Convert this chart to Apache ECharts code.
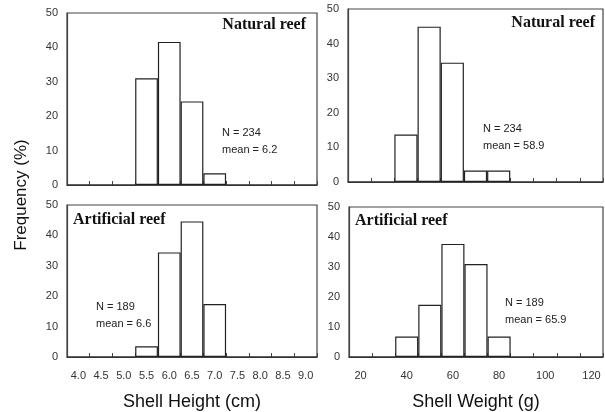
<!DOCTYPE html>
<html>
<head>
<meta charset="utf-8">
<script src="https://cdn.jsdelivr.net/npm/echarts@6/dist/echarts.min.js"></script>
<style>
    html, body { margin: 0; padding: 0; background: #fff; }
    #chart1 { width: 605px; height: 412px; }
</style>
</head>
<body>
<div id="chart1"></div>
<script>
// 数据
var heightCats = ['4.0', '4.5', '5.0', '5.5', '6.0', '6.5', '7.0', '7.5', '8.0', '8.5', '9.0'];
var weightCats = ['20', '30', '40', '50', '60', '70', '80', '90', '100', '110', '120'];
var heightNatural = [0, 0, 0, 31, 41.6, 24.3, 3.4, 0, 0, 0, 0];
var heightArtificial = [0, 0, 0, 3.5, 34.4, 44.6, 17.4, 0, 0, 0, 0];
var weightNatural = [0, 0, 13.7, 44.9, 34.5, 3.3, 3.3, 0, 0, 0, 0];
var weightArtificial = [0, 0, 6.8, 17.4, 37.7, 31.0, 6.8, 0, 0, 0, 0];
var yTicks = [0, 10, 20, 30, 40, 50];

var chart1 = echarts.init(document.getElementById('chart1'));
var txtColor = '#333';
var frameColor = '#444';

function makeX(idx, cats, showLabel, name, labelInterval) {
    return {
        type: 'category',
        gridIndex: idx,
        data: cats,
        boundaryGap: true,
        axisLine: { show: true, lineStyle: { color: frameColor, width: 1.2 } },
        axisTick: { show: true, inside: true, length: 4, interval: 0, lineStyle: { color: frameColor } },
        axisLabel: {
            show: showLabel, interval: labelInterval, margin: 13,
            color: txtColor, fontSize: 11, fontFamily: 'Liberation Sans'
        },
        name: name,
        nameLocation: 'middle',
        nameGap: 36,
        nameTextStyle: { color: '#111', fontSize: 18, fontFamily: 'Liberation Sans' }
    };
}
function makeY(idx) {
    return {
        type: 'value',
        gridIndex: idx,
        min: yTicks[0],
        max: yTicks[yTicks.length - 1],
        interval: 10,
        splitLine: { show: false },
        axisLine: { show: true, lineStyle: { color: frameColor, width: 1.2 } },
        axisTick: { show: false },
        axisLabel: { margin: 9, color: txtColor, fontSize: 11, fontFamily: 'Liberation Sans' }
    };
}
function makeBar(idx, data) {
    return {
        type: 'bar',
        xAxisIndex: idx,
        yAxisIndex: idx,
        data: data,
        barCategoryGap: '0%',
        silent: true,
        itemStyle: { color: '#fff', borderColor: '#222', borderWidth: 1.2 }
    };
}
function note(x, y, lines) {
    return {
        type: 'text', left: x, top: y,
        style: {
            text: lines.join('\n'), fill: '#222', fontSize: 11, lineHeight: 17,
            fontFamily: 'Liberation Sans'
        }
    };
}
function reefLabel(x, y, s, align) {
    return {
        type: 'text', x: x, y: y,
        style: {
            text: s, fill: '#111', fontSize: 16, fontWeight: 'bold',
            fontFamily: 'Liberation Serif', align: align, verticalAlign: 'middle'
        }
    };
}

var option = {
    animation: false,
    grid: [
        { left: 67, top: 13, width: 250, height: 172, show: true, borderColor: frameColor, borderWidth: 1.2 },
        { left: 67, top: 205, width: 250, height: 155, show: true, borderColor: frameColor, borderWidth: 1.2 },
        { left: 348, top: 9, width: 255, height: 173, show: true, borderColor: frameColor, borderWidth: 1.2 },
        { left: 349, top: 207, width: 254, height: 152, show: true, borderColor: frameColor, borderWidth: 1.2 }
    ],
    xAxis: [
        makeX(0, heightCats, false, '', 0),
        makeX(1, heightCats, true, 'Shell Height (cm)', 0),
        makeX(2, weightCats, false, '', 1),
        makeX(3, weightCats, true, 'Shell Weight (g)', 1)
    ],
    yAxis: [makeY(0), makeY(1), makeY(2), makeY(3)],
    series: [
        makeBar(0, heightNatural),
        makeBar(1, heightArtificial),
        makeBar(2, weightNatural),
        makeBar(3, weightArtificial)
    ],
    graphic: [
        {
            type: 'text', x: 21, y: 195, rotation: Math.PI / 2,
            style: {
                text: 'Frequency (%)', fill: '#111', fontSize: 17,
                fontFamily: 'Liberation Sans', align: 'center', verticalAlign: 'middle'
            }
        },
        reefLabel(306, 25, 'Natural reef', 'right'),
        reefLabel(595, 23, 'Natural reef', 'right'),
        reefLabel(73, 220, 'Artificial reef', 'left'),
        reefLabel(355, 221, 'Artificial reef', 'left'),
        note(222, 124, ['N = 234', 'mean = 6.2']),
        note(483, 120, ['N = 234', 'mean = 58.9']),
        note(96, 298, ['N = 189', 'mean = 6.6']),
        note(505, 294, ['N = 189', 'mean = 65.9'])
    ]
};
chart1.setOption(option, true);
</script>
</body>
</html>
